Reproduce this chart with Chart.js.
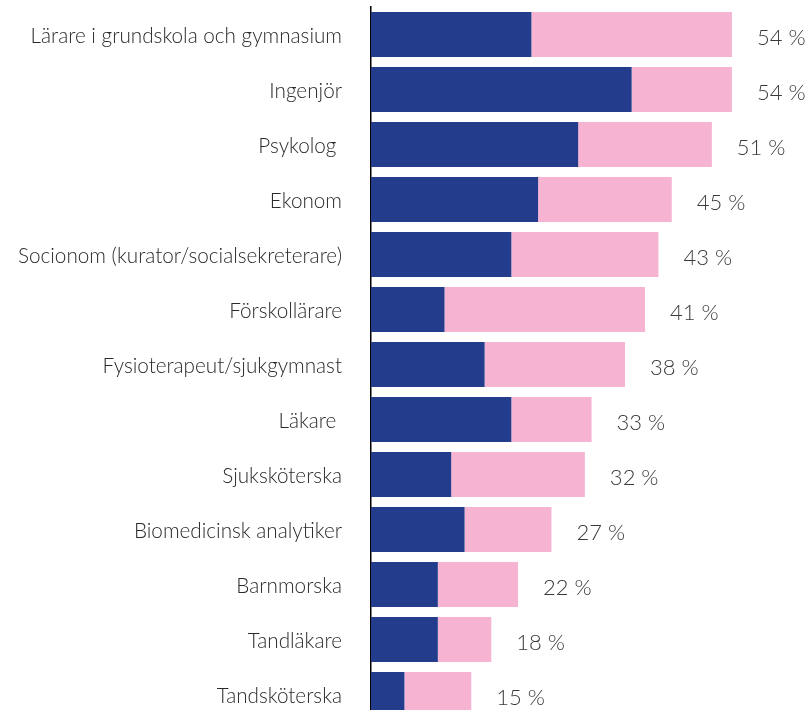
<!DOCTYPE html>
<html>
<head>
<meta charset="utf-8">
<script src="https://cdn.jsdelivr.net/npm/chart.js@4"></script>
<style>
  html, body { margin: 0; padding: 0; background: #fff; }
  #wrap { width: 808px; height: 710px; overflow: hidden; }
</style>
</head>
<body>
<div id="wrap"><canvas id="chart" width="808" height="722"></canvas></div>
<script>
var professions = ['Lärare i grundskola och gymnasium', 'Ingenjör', 'Psykolog ', 'Ekonom',
    'Socionom (kurator/socialsekreterare)', 'Förskollärare', 'Fysioterapeut/sjukgymnast',
    'Läkare ', 'Sjuksköterska', 'Biomedicinsk analytiker', 'Barnmorska', 'Tandläkare', 'Tandsköterska'];
var darkPart = [24, 39, 31, 25, 21, 11, 17, 21, 12, 14, 10, 10, 5];
var pinkPart = [30, 15, 20, 20, 22, 30, 21, 12, 20, 13, 12, 8, 10];
var totals = [54, 54, 51, 45, 43, 41, 38, 33, 32, 27, 22, 18, 15];

var fontFamily = 'Lato, "Open Sans", sans-serif';

// writes the total at the end of each bar
var totalLabels = {
    id: 'totalLabels',
    afterDatasetsDraw: function(chart) {
        var ctx = chart.ctx;
        var x = chart.scales.x, y = chart.scales.y;
        ctx.save();
        ctx.font = '300 22px ' + fontFamily;
        ctx.fillStyle = '#3a3a3a';
        ctx.textAlign = 'left';
        ctx.textBaseline = 'middle';
        totals.forEach(function(t, i) {
            ctx.fillText(t + ' %', x.getPixelForValue(t) + 25, y.getPixelForValue(i) + 3);
        });
        ctx.restore();
    }
};

new Chart(document.getElementById('chart').getContext('2d'), {
    type: 'bar',
    data: {
        labels: professions,
        datasets: [
            { data: darkPart, backgroundColor: '#233C8C', barPercentage: 0.818, categoryPercentage: 1 },
            { data: pinkPart, backgroundColor: '#F7B3D2', barPercentage: 0.818, categoryPercentage: 1 }
        ]
    },
    options: {
        indexAxis: 'y',
        responsive: false,
        animation: false,
        layout: { padding: { top: 7, right: 36, bottom: 0, left: 0 } },
        plugins: { legend: { display: false }, tooltip: { enabled: false } },
        scales: {
            x: {
                stacked: true,
                display: false,
                min: 0,
                max: 60
            },
            y: {
                stacked: true,
                grid: { display: false, drawTicks: false },
                border: { display: true, color: '#000', width: 1.5 },
                ticks: {
                    padding: 29,
                    labelOffset: 2,
                    color: '#2a2a2a',
                    font: { family: fontFamily, size: 20.7, weight: 300 }
                },
                afterFit: function(scale) {
                    scale.width = 371;
                    scale.paddingTop = 0;
                    scale.paddingBottom = 0;
                }
            }
        }
    },
    plugins: [totalLabels]
});
</script>
</body>
</html>
